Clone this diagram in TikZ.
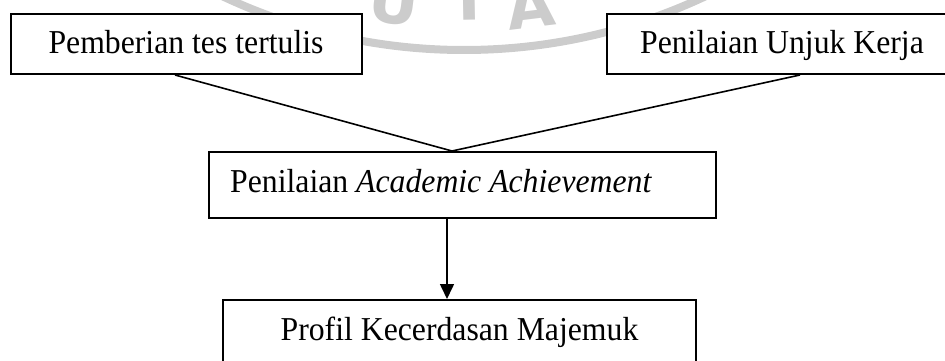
\documentclass[tikz,border=0pt]{standalone}
\usepackage{fontspec}
\setmainfont{Liberation Serif}[FakeStretch=0.95]
\newfontfamily\wmfont{DejaVu Sans}
\usetikzlibrary{arrows.meta,calc}
\tikzset{
  x=1pt,y=-1pt,
  boxnode/.style={draw=black,fill=white,line width=2pt,rectangle,inner sep=0pt},
  lbl/.style={inner sep=0pt,font=\fontsize{33.4}{40}\selectfont},
  conn/.style={draw=black,line width=1.6pt},
  arr/.style={conn,-{Triangle[length=15pt,width=14pt]}},
  wm/.style={text=black!20,inner sep=0pt,font=\wmfont\bfseries\fontsize{62}{62}\selectfont},
}
\begin{document}
\begin{tikzpicture}
\useasboundingbox (0,0) rectangle (945,361);
\clip (0,0) rectangle (945,361);
% faint watermark
\draw[black!20,line width=8pt] (464,-518) circle[radius=568];
\node[wm,anchor=base,rotate=-7] (wu) at (391,24) {U};
\node[wm,anchor=base,rotate=1] (wt) at (470,20) {T};
\node[wm,anchor=base,rotate=7] (wa) at (533,28) {A};
% boxes
\node[boxnode,minimum width=351pt,minimum height=60pt] (b1) at (186.5,44) {};
\node[boxnode,minimum width=350pt,minimum height=60pt] (b2) at (782,44) {};
\node[boxnode,minimum width=507pt,minimum height=66pt] (mid) at (462.5,185) {};
\node[boxnode,minimum width=473pt,minimum height=90pt] (bot) at (459.5,345) {};
% texts
\node[lbl,anchor=base] (t1) at (186,54) {Pemberian tes tertulis};
\node[lbl,anchor=base] (t2) at (782,54) {Penilaian Unjuk Kerja};
\node[lbl,anchor=base west] (t3) at (230,192) {Penilaian \textit{Academic Achievement}};
\node[lbl,anchor=base] (t4) at (459.5,340) {Profil Kecerdasan Majemuk};
% connectors
\coordinate (l1) at ([xshift=-11.5pt]b1.south);
\coordinate (l2) at ([xshift=18pt]b2.south);
\coordinate (ap) at ([xshift=-10.5pt]mid.north);
\draw[conn] (l1) -- (ap) -- (l2);
\coordinate (a1) at ([xshift=-15.5pt]mid.south);
\draw[arr] (a1) -- (a1 |- bot.north);
\end{tikzpicture}
\end{document}
